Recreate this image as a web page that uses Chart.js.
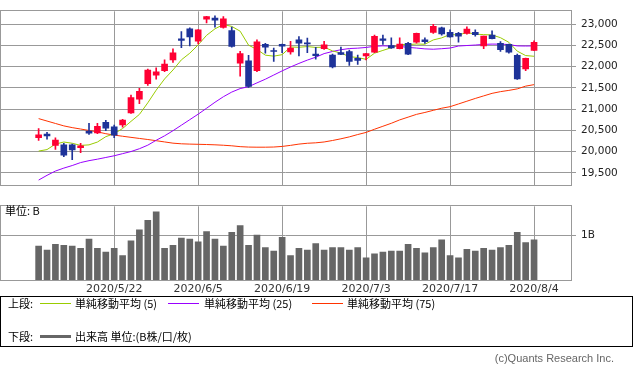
<!DOCTYPE html>
<html><head><meta charset="utf-8">
<script src="https://cdn.jsdelivr.net/npm/chart.js@4.4.1/dist/chart.umd.min.js"></script>
<style>
html,body{margin:0;padding:0;background:#fff;width:633px;height:373px;overflow:hidden;position:relative;font-family:"Noto Sans CJK JP","DejaVu Sans",sans-serif;}
canvas{position:absolute;left:0;}
#c1{top:0;}
#c2{top:195px;}
.t{position:absolute;font-size:11px;line-height:13px;color:#000;white-space:nowrap;}
.ln{position:absolute;height:1px;}
#legend{position:absolute;left:0;top:296px;width:631px;height:49px;border:1px solid #000;}
#copy{position:absolute;right:19px;top:351px;font:11px "Liberation Sans",Arial,sans-serif;color:#666;line-height:14px;}
</style></head><body>
<canvas id="c1" width="633" height="196"></canvas>
<canvas id="c2" width="633" height="105"></canvas>
<div class="t" style="left:5px;top:204px">単位: B</div>
<div id="legend"></div>
<div class="t" style="left:8px;top:297px">上段:</div>
<div class="ln" style="left:40px;top:303px;width:31px;background:#99cc00"></div>
<div class="t" style="left:75px;top:297px">単純移動平均 (5)</div>
<div class="ln" style="left:168px;top:303px;width:31px;background:#9900ff"></div>
<div class="t" style="left:204px;top:297px">単純移動平均 (25)</div>
<div class="ln" style="left:312px;top:303px;width:31px;background:#ff3300"></div>
<div class="t" style="left:347px;top:297px">単純移動平均 (75)</div>
<div class="t" style="left:8px;top:330px">下段:</div>
<div class="ln" style="left:40px;top:335px;width:31px;height:3px;background:#666"></div>
<div class="t" style="left:75px;top:330px">出来高 単位:(B株/口/枚)</div>
<div id="copy">(c)Quants Research Inc.</div>
<script>
const dates = ['2020/5/11','2020/5/12','2020/5/13','2020/5/14','2020/5/15',
'2020/5/18','2020/5/19','2020/5/20','2020/5/21','2020/5/22',
'2020/5/25','2020/5/26','2020/5/27','2020/5/28','2020/5/29',
'2020/6/1','2020/6/2','2020/6/3','2020/6/4','2020/6/5',
'2020/6/8','2020/6/9','2020/6/10','2020/6/11','2020/6/12',
'2020/6/15','2020/6/16','2020/6/17','2020/6/18','2020/6/19',
'2020/6/22','2020/6/23','2020/6/24','2020/6/25','2020/6/26',
'2020/6/29','2020/6/30','2020/7/1','2020/7/2','2020/7/3',
'2020/7/6','2020/7/7','2020/7/8','2020/7/9','2020/7/10',
'2020/7/13','2020/7/14','2020/7/15','2020/7/16','2020/7/17',
'2020/7/20','2020/7/21','2020/7/22','2020/7/27','2020/7/28',
'2020/7/29','2020/7/30','2020/7/31','2020/8/3','2020/8/4'];
const open = [20328,20408,20142,20155,20155,20090,20480,20436,20689,20581,20624,20911,21235,21596,21797,21905,22158,22654,22892,22596,23114,23145,22920,22849,22078,22136,21905,22525,22380,22525,22346,22633,22562,22294,22423,22272,22330,22352,22194,22250,22337,22654,22497,22423,22546,22574,22633,22806,22914,22806,22784,22784,22806,22488,22741,22546,22525,22266,21948,22380];
const high = [20538,20451,20322,20192,20177,20192,20667,20667,20732,20624,20760,21330,21488,21942,21970,22158,22417,22827,22914,22870,23185,23194,23179,22929,22358,22266,22633,22546,22438,22530,22596,22704,22670,22454,22596,22294,22460,22389,22272,22310,22741,22741,22676,22676,22574,22790,22676,22994,22929,22864,22806,22935,22864,22720,22842,22590,22530,22294,22200,22605];
const low = [20263,20294,20047,19880,19810,19976,20400,20420,20494,20328,20574,20900,21127,21559,21704,21883,22099,22445,22488,22531,23028,22929,22907,22460,21775,21510,21883,22315,22121,22330,22294,22250,22330,22173,22402,21970,22280,22028,22050,22158,22330,22525,22430,22415,22280,22553,22546,22784,22741,22690,22574,22762,22719,22423,22650,22358,22315,21700,21905,22375];
const close = [20391,20366,20267,19915,20037,20134,20433,20595,20552,20388,20742,21271,21419,21916,21878,22062,22326,22614,22696,22864,23178,23091,23125,22473,22305,21531,22582,22456,22355,22479,22437,22549,22534,22260,22512,21995,22288,22122,22146,22306,22714,22615,22439,22529,22291,22785,22587,22946,22770,22696,22717,22884,22752,22716,22657,22397,22339,21710,22195,22574];
const sma5 = [20011,20046,20175,20224,20195,20144,20157,20223,20350,20420,20542,20710,20874,21147,21445,21709,21920,22159,22315,22512,22736,22889,22991,22946,22834,22505,22403,22269,22246,22281,22462,22455,22471,22452,22458,22370,22318,22235,22213,22171,22315,22381,22444,22521,22518,22532,22526,22628,22676,22757,22743,22803,22764,22753,22745,22681,22572,22364,22260,22243];
const sma25 = [19328,19440,19540,19610,19670,19740,19785,19820,19860,19900,19950,20000,20066,20150,20265,20370,20490,20620,20750,20880,21019,21160,21290,21400,21482,21527,21616,21703,21801,21899,21991,22075,22153,22221,22306,22356,22397,22425,22434,22451,22478,22489,22482,22475,22452,22437,22417,22409,22421,22437,22484,22496,22508,22523,22530,22528,22520,22487,22484,22487];
const sma75 = [20775,20718,20661,20604,20563,20530,20496,20463,20420,20386,20360,20334,20308,20283,20255,20226,20197,20182,20175,20170,20165,20158,20148,20135,20115,20105,20102,20102,20106,20120,20145,20175,20195,20205,20225,20260,20300,20345,20400,20450,20525,20595,20665,20745,20810,20875,20920,20970,21020,21056,21120,21185,21250,21310,21370,21410,21440,21475,21540,21575];
const volume = [0.76,0.67,0.80,0.78,0.76,0.71,0.92,0.71,0.63,0.71,0.55,0.88,1.13,1.34,1.53,0.71,0.78,0.94,0.92,0.86,1.09,0.92,0.76,1.07,1.22,0.78,1.01,0.73,0.65,0.96,0.55,0.71,0.67,0.82,0.67,0.73,0.73,0.67,0.73,0.50,0.59,0.63,0.65,0.65,0.80,0.71,0.61,0.73,0.90,0.55,0.50,0.69,0.65,0.71,0.67,0.73,0.78,1.07,0.84,0.90];
const xTickLabels = ['2020/5/22','2020/6/5','2020/6/19','2020/7/3','2020/7/17','2020/8/4'];
const priceTicks = [19500,20000,20500,21000,21500,22000,22500,23000];
const volumeTicks = [1];

const UP = '#ff0033', DN = '#1e3399', GRID = '#999999';
const xTickIdx = xTickLabels.map(l => dates.indexOf(l));
const candleColors = close.map((c, i) => c >= open[i] ? UP : DN);
const X_MIN = -4.6, X_MAX = 63.4;

const boxPlugin = {
  id: 'box',
  afterDraw(ch) {
    const a = ch.chartArea, c = ch.ctx;
    c.save();
    c.strokeStyle = GRID; c.lineWidth = 1;
    const l = Math.round(a.left) + 0.5, t = Math.round(a.top) - 0.5,
          r = Math.round(a.right) + 0.5, b = Math.round(a.bottom) + 0.5;
    c.strokeRect(l, t, r - l, b - t);
    c.restore();
  }
};

const xScaleBase = {
  type: 'linear', min: X_MIN, max: X_MAX, offset: false,
  afterBuildTicks: s => { s.ticks = xTickIdx.map(v => ({ value: v })); },
  border: { display: false }
};

new Chart(document.getElementById('c1'), {
  type: 'bar',
  data: { datasets: [
    { type: 'bar', data: dates.map((d, i) => ({ x: i, y: [open[i], close[i]] })), backgroundColor: candleColors, barThickness: 6, grouped: false, minBarLength: 1, order: 1 },
    { type: 'bar', data: dates.map((d, i) => ({ x: i, y: [low[i], high[i]] })), backgroundColor: candleColors, barThickness: 1, grouped: false, order: 2 },
    { type: 'line', data: dates.map((d, i) => ({ x: i, y: sma75[i] })), borderColor: '#ff3300', borderWidth: 1, pointRadius: 0, tension: 0, order: 5 },
    { type: 'line', data: dates.map((d, i) => ({ x: i, y: sma25[i] })), borderColor: '#9900ff', borderWidth: 1, pointRadius: 0, tension: 0, order: 4 },
    { type: 'line', data: dates.map((d, i) => ({ x: i, y: sma5[i] })), borderColor: '#99cc00', borderWidth: 1, pointRadius: 0, tension: 0, order: 3 }
  ]},
  options: {
    animation: false, responsive: false, events: [],
    layout: { padding: { top: 1, left: 0, right: 0, bottom: 0 } },
    plugins: { legend: { display: false }, tooltip: { enabled: false } },
    scales: {
      x: Object.assign({}, xScaleBase, {
        ticks: { display: false },
        grid: { color: GRID, drawTicks: false, offset: false },
        afterFit: s => { s.height = 6; }
      }),
      y: {
        position: 'right', min: 19219, max: 23302,
        afterBuildTicks: s => { s.ticks = priceTicks.map(v => ({ value: v })); },
        ticks: { font: { family: 'DejaVu Sans', size: 10.5 }, color: '#222', padding: 5,
                 callback: v => Number(v).toLocaleString('en-US') },
        grid: { color: GRID, tickLength: 5 },
        border: { display: false },
        afterFit: s => { s.width = 62; }
      }
    }
  },
  plugins: [boxPlugin]
});

new Chart(document.getElementById('c2'), {
  type: 'bar',
  data: { datasets: [
    { data: dates.map((d, i) => ({ x: i, y: volume[i] })), backgroundColor: '#666666', barThickness: 6, grouped: false }
  ]},
  options: {
    animation: false, responsive: false, events: [],
    layout: { padding: { top: 6, left: 0, right: 0, bottom: 0 } },
    plugins: { legend: { display: false }, tooltip: { enabled: false } },
    scales: {
      x: Object.assign({}, xScaleBase, {
        ticks: { font: { family: 'DejaVu Sans', size: 11 }, color: '#333', padding: 3, maxRotation: 0, autoSkip: false,
                 callback: v => dates[v] },
        grid: { color: GRID, drawTicks: false, offset: false },
        afterFit: s => { s.height = 20; }
      }),
      y: {
        position: 'right', min: 0, max: 1.656,
        afterBuildTicks: s => { s.ticks = volumeTicks.map(v => ({ value: v })); },
        ticks: { font: { family: 'DejaVu Sans', size: 10.5 }, color: '#222', padding: 5,
                 callback: v => v + 'B' },
        grid: { color: GRID, tickLength: 5 },
        border: { display: false },
        afterFit: s => { s.width = 62; }
      }
    }
  },
  plugins: [boxPlugin]
});
</script>
</body></html>
